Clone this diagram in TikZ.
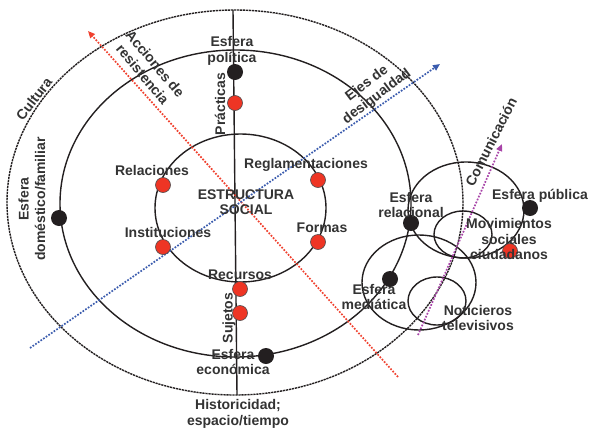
\documentclass[tikz,border=0pt]{standalone}
\usepackage{fontspec}
\setmainfont{Liberation Sans}
\usetikzlibrary{arrows.meta}
\definecolor{txt}{HTML}{333333}
\definecolor{dotred}{HTML}{EE3524}
\definecolor{ink}{HTML}{231F20}
\definecolor{arrred}{HTML}{F0402E}
\definecolor{arrblue}{HTML}{3A5BAE}
\definecolor{arrpurple}{HTML}{A844A8}
\begin{document}
\begin{tikzpicture}[x=1pt,y=-1pt,
  lbl/.style={font=\fontsize{14}{16.5}\selectfont\bfseries, text=txt, align=center, inner sep=0pt},
  bdot/.style={circle, fill=ink, minimum size=16pt, inner sep=0pt},
  rdot/.style={circle, fill=dotred, draw=ink!80, line width=0.6pt, minimum size=15pt, inner sep=0pt},
  ring/.style={line width=1.4pt, draw=ink},
  dring/.style={line width=1.4pt, draw=ink, dash pattern=on 2.2pt off 0.8pt},
  arr/.style={line width=1.7pt, dash pattern=on 1.7pt off 1.5pt, -{Triangle[length=7pt,width=6pt]}}]
\fill[white] (0,0) rectangle (589,434);
\useasboundingbox (0,0) rectangle (589,434);

% ellipses
\coordinate (cout) at (235,202.5);
\coordinate (cmid) at (235.5,203.5);
\coordinate (cin) at (240.5,208);
\draw[dring] (cout) ellipse [x radius=228pt, y radius=192.5pt];
\draw[ring] (cmid) ellipse [x radius=175.5pt, y radius=153.5pt];
\draw[ring] (cin) ellipse [x radius=85.5pt, y radius=74pt];

% right small circles
\draw[ring] (466,210) ellipse [x radius=58pt, y radius=48pt];
\draw[ring] (463,234.5) ellipse [x radius=29pt, y radius=23.5pt];
\draw[ring] (419,282.5) ellipse [x radius=57pt, y radius=47.5pt];
\draw[ring] (437,301) ellipse [x radius=29pt, y radius=24pt];

% vertical axis
\coordinate (vtop) at (233,10);
\coordinate (vbot) at (237,395);
\draw[ring] (vtop) -- (vbot);

% dotted arrows
\coordinate (rs) at (398,377); \coordinate (re) at (88,31);
\coordinate (bs) at (30,348);  \coordinate (be) at (440,64);
\coordinate (ps) at (418,335); \coordinate (pe) at (502,144);
\draw[arr, arrred] (rs) -- (re);
\draw[arr, arrblue] (bs) -- (be);
\draw[arr, arrpurple] (ps) -- (pe);

% dots
\node[bdot] (dpol) at (235,72) {};
\node[rdot] (dprac) at (235,103) {};
\node[bdot] (ddom) at (59,218) {};
\node[rdot] (drel) at (163,185) {};
\node[rdot] (dreg) at (318,180) {};
\node[rdot] (dfor) at (318,242) {};
\node[rdot] (dins) at (163,247) {};
\node[rdot] (drec) at (240,289) {};
\node[rdot] (dsuj) at (240,313) {};
\node[bdot] (deco) at (266,356) {};
\node[bdot] (drelac) at (411,223) {};
\node[bdot] (dmed) at (390,279) {};
\node[bdot] (dpub) at (530,208) {};
\node[rdot] (dmov) at (510,251) {};

% labels
\node[lbl, font=\fontsize{14}{15.5}\selectfont\bfseries] (lpol) at (232,51) {Esfera\\política};
\node[lbl, rotate=90] (lprac) at (220,104) {Prácticas};
\node[lbl, rotate=-50] (lacc) at (149,69) {Acciones de\\resistencia};
\node[lbl, rotate=52] (lcult) at (34,99) {Cultura};
\node[lbl, rotate=37] (leje) at (372,90) {Ejes de\\desigualdad};
\node[lbl, rotate=63] (lcom) at (491,142) {Comunicación};
\node[lbl] (lrel) at (152,170) {Relaciones};
\node[lbl] (lreg) at (306,165) {Reglamentaciones};
\node[lbl, font=\fontsize{14}{15.5}\selectfont\bfseries] (lest) at (246,202) {ESTRUCTURA\\SOCIAL};
\node[lbl, rotate=90] (ldom) at (32,199) {Esfera\\doméstico/familiar};
\node[lbl] (lins) at (168,232) {Instituciones};
\node[lbl] (lfor) at (322,228) {Formas};
\node[lbl] (lrec) at (240,275) {Recursos};
\node[lbl, rotate=90] (lsuj) at (229,318) {Sujetos};
\node[lbl, font=\fontsize{14}{15.5}\selectfont\bfseries] (leco) at (233,362) {Esfera\\económica};
\node[lbl, font=\fontsize{14}{15.5}\selectfont\bfseries] (lhis) at (238,414) {Historicidad;\\espacio/tiempo};
\node[lbl, font=\fontsize{14}{15.5}\selectfont\bfseries] (lrelac) at (411,205) {Esfera\\relacional};
\node[lbl] (lpub) at (540,196) {Esfera pública};
\node[lbl, font=\fontsize{14}{15.5}\selectfont\bfseries] (lmov) at (509,239) {Movimientos\\sociales\\ciudadanos};
\node[lbl, font=\fontsize{14}{15.5}\selectfont\bfseries] (lmed) at (374,297) {Esfera\\mediática};
\node[lbl, font=\fontsize{14}{15.5}\selectfont\bfseries] (lnot) at (478,318) {Noticieros\\televisivos};
\end{tikzpicture}
\end{document}
